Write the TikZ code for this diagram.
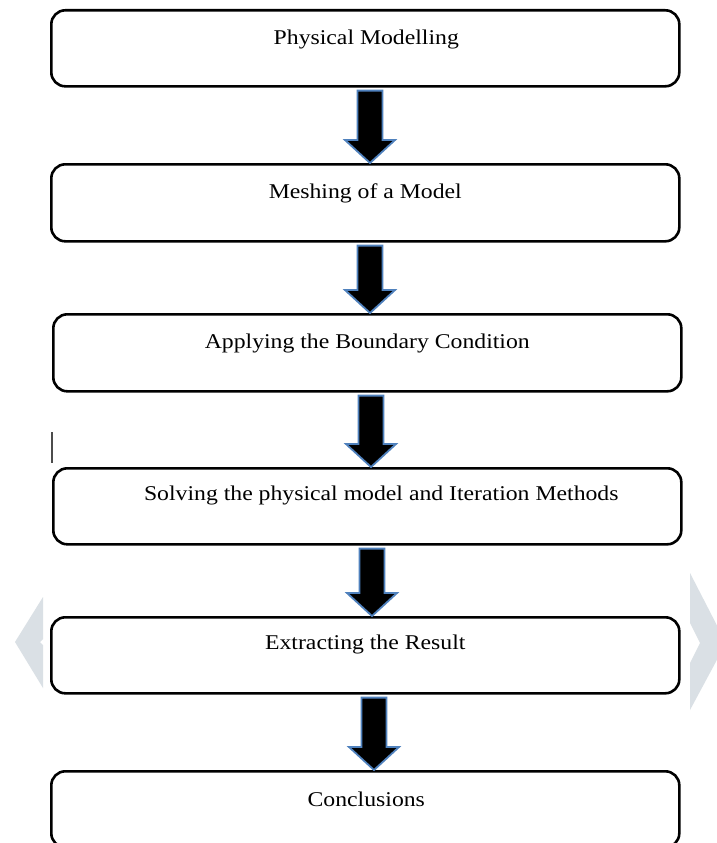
\documentclass[tikz,border=0pt]{standalone}
\usepackage{fontspec}
\setmainfont{Liberation Serif}
\newfontfamily\boxfont[FakeStretch=1.13]{Liberation Serif}
\usetikzlibrary{calc}
\definecolor{arrowedge}{HTML}{4F81BD}
\definecolor{chevgray}{HTML}{DAE0E5}
\tikzset{
  stepbox/.style={draw=black, line width=2.6pt, rounded corners=14pt, fill=white},
  steptext/.style={font=\boxfont\fontsize{21}{25}\selectfont, inner sep=0pt, anchor=center},
  blockarrow/.style={draw=arrowedge, line width=1.8pt, fill=black, line join=miter},
}
\newcommand{\blockarr}[3]{%
  \draw[blockarrow]
    ($(#1 |- #2.south)+(-12.5,3)$) -- ($(#1 |- #2.south)+(12.5,3)$)
    -- ($(#1 |- #3.north)+(12.5,-23)$) -- ($(#1 |- #3.north)+(25,-23)$)
    -- ($(#1 |- #3.north)+(0,0)$)
    -- ($(#1 |- #3.north)+(-25,-23)$) -- ($(#1 |- #3.north)+(-12.5,-23)$) -- cycle;}
\begin{document}
\begin{tikzpicture}[x=1pt, y=-1pt]
  \useasboundingbox (0,0) rectangle (717,843);
  \clip (0,0) rectangle (717,843);
  \fill[white] (0,0) rectangle (717,843);
  % background chevrons
  \fill[chevgray] (43,597) -- (15,642) -- (43,688) -- (43,645) -- (40,642) -- (43,639) -- cycle;
  \fill[chevgray] (690,573) -- (726,643) -- (690,710) -- (690,663) -- (700,643) -- (690,623) -- cycle;
  % stray vertical mark
  \draw[draw=black!70, line width=1.3pt] (52,432) -- (52,463);
  % boxes
  \node[stepbox, minimum width=628pt, minimum height=76pt, anchor=north west] (b1) at (50,9) {};
  \node[stepbox, minimum width=628pt, minimum height=77pt, anchor=north west] (b2) at (50,163) {};
  \node[stepbox, minimum width=628pt, minimum height=77pt, anchor=north west] (b3) at (52,313) {};
  \node[stepbox, minimum width=628pt, minimum height=76pt, anchor=north west] (b4) at (52,467) {};
  \node[stepbox, minimum width=628pt, minimum height=76pt, anchor=north west] (b5) at (50,616) {};
  \node[stepbox, minimum width=628pt, minimum height=76pt, anchor=north west] (b6) at (50,770) {};
  % texts
  \node[steptext] (t1) at ($(b1.north)+(1,30)$) {Physical Modelling};
  \node[steptext] (t2) at ($(b2.north)+(0,30)$) {Meshing of a Model};
  \node[steptext] (t3) at ($(b3.north)+(0,30)$) {Applying the Boundary Condition};
  \node[steptext] (t4) at ($(b4.north)+(14,28)$) {Solving the physical model and Iteration Methods};
  \node[steptext] (t5) at ($(b5.north)+(0,28)$) {Extracting the Result};
  \node[steptext] (t6) at ($(b6.north)+(1,29)$) {Conclusions};
  % arrow axes
  \coordinate (ax1) at (370,0);
  \coordinate (ax2) at (370,0);
  \coordinate (ax3) at (371,0);
  \coordinate (ax4) at (372,0);
  \coordinate (ax5) at (374,0);
  \blockarr{ax1}{b1}{b2}
  \blockarr{ax2}{b2}{b3}
  \blockarr{ax3}{b3}{b4}
  \blockarr{ax4}{b4}{b5}
  \blockarr{ax5}{b5}{b6}
\end{tikzpicture}
\end{document}
